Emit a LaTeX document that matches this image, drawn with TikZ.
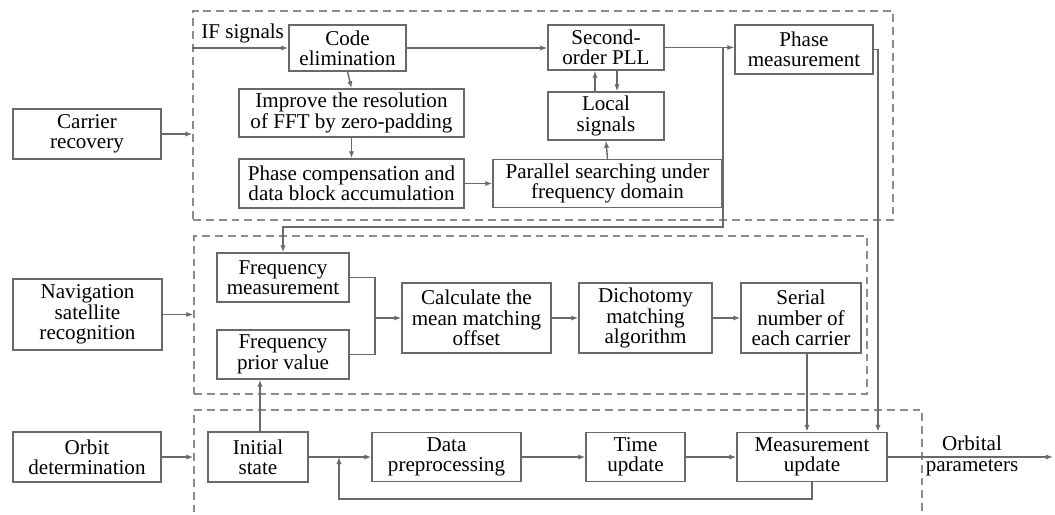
\documentclass[tikz,border=0pt]{standalone}
\usepackage{fontspec}
\setmainfont{Liberation Serif}
\usetikzlibrary{arrows.meta}

\definecolor{boxgray}{RGB}{105,105,105}
\definecolor{dashgray}{RGB}{140,140,140}

\begin{document}
\begin{tikzpicture}[x=0.02cm, y=-0.02cm,
  every node/.style={font=\fontsize{12}{11.6}\selectfont},
  blk/.style={draw=boxgray, line width=0.8pt, inner sep=0pt, align=center},
  grp/.style={draw=dashgray, line width=0.8pt, dash pattern=on 4.5pt off 2.8pt, inner sep=0pt},
  arr/.style={draw=boxgray, line width=0.8pt, -{Latex[length=4pt,width=3pt]}},
  ln/.style={draw=boxgray, line width=0.8pt}]
\useasboundingbox (0,0) rectangle (1055,514);
\clip (0,0) rectangle (1055,514);

% Dashed groups
\node (g1) [grp, minimum width=14cm, minimum height=4.18cm] at (543,115.5) {};
\node (g2) [grp, minimum width=13.46cm, minimum height=3.16cm] at (530.5,315) {};
\node (g3) [grp, minimum width=14.56cm, minimum height=2.6cm] at (558,475) {};

% Left column
\node (cr) [blk, minimum width=2.96cm, minimum height=1cm] at (87,134) {Carrier\\recovery};
\node (nsr) [blk, minimum width=2.98cm, minimum height=1.42cm] at (87.5,314.5) {Navigation\\satellite\\recognition};
\node (od) [blk, minimum width=2.96cm, minimum height=1cm] at (87,457) {Orbit\\determination};

% Carrier recovery
\node (ce) [blk, minimum width=2.34cm, minimum height=0.92cm] at (347.5,48) {Code\\elimination};
\node (fft) [blk, minimum width=4.5cm, minimum height=0.96cm] at (351.5,113) {Improve the resolution\\of FFT by zero-padding};
\node (pc) [blk, minimum width=4.5cm, minimum height=0.98cm] at (351.5,183.5) {Phase compensation and\\data block accumulation};
\node (ps) [blk, minimum width=4.58cm, minimum height=0.96cm] at (607.5,183.5) {Parallel searching under\\frequency domain};
\node (pll) [blk, minimum width=2.32cm, minimum height=0.9cm] at (606,47.5) {Second-\\order PLL};
\node (ls) [blk, minimum width=2.32cm, minimum height=0.96cm] at (606,116) {Local\\signals};
\node (pm) [blk, minimum width=2.76cm, minimum height=0.98cm] at (804,49.5) {Phase\\measurement};
\node (iflbl) [anchor=base west, inner sep=0pt] at (201,38) {IF signals};

% Navigation satellite recognition
\node (fm) [blk, minimum width=2.64cm, minimum height=0.98cm] at (283,277.5) {Frequency\\measurement};
\node (fp) [blk, minimum width=2.64cm, minimum height=0.98cm] at (283,354.5) {Frequency\\prior value};
\node (cm) [blk, minimum width=2.98cm, minimum height=1.4cm] at (476.5,318) {Calculate the\\mean matching\\offset};
\node (dm) [blk, minimum width=2.66cm, minimum height=1.4cm] at (645.5,318) {Dichotomy\\matching\\algorithm};
\node (sn) [blk, minimum width=2.4cm, minimum height=1.4cm] at (801,318) {Serial\\number of\\each carrier};

% Orbit determination
\node (is) [blk, minimum width=2cm, minimum height=1cm] at (258,457) {Initial\\state};
\node (dp) [blk, minimum width=2.98cm, minimum height=0.98cm] at (446.5,457) {Data\\preprocessing};
\node (tu) [blk, minimum width=1.98cm, minimum height=0.98cm] at (635.5,457) {Time\\update};
\node (mu) [blk, minimum width=3cm, minimum height=0.98cm] at (812,457) {Measurement\\update};
\node (outlbl) [align=center, inner sep=0pt] at (972,456) {Orbital\\parameters};

% Turning points
\coordinate (tap) at (723,47.5);
\coordinate (tapdn) at (723,227);
\coordinate (pmturn) at (878,49.5);
\coordinate (mrg) at (375,318);
\coordinate (fbl) at (339,499);
\coordinate (fbk) at (339,457);
\coordinate (out) at (1053,457);

% Left column into groups
\draw[arr] (cr.east) -- (cr.east -| g1.west);
\draw[arr] (nsr.east) -- (nsr.east -| g2.west);
\draw[arr] (od.east) -- (od.east -| g3.west);

% Carrier recovery arrows
\draw[arr] (ce.west -| g1.west) -- (ce.west);
\draw[arr] (ce.south) -- (fft.north);
\draw[arr] (fft.south) -- (pc.north);
\draw[arr] (pc.east) -- (ps.west);
\draw[arr] (ce.east) -- (ce.east -| pll.west);
\draw[arr] (ps.north) -- (ls.south);
\draw[arr] ([xshift=-0.22cm]ls.north) -- ([xshift=-0.22cm]pll.south);
\draw[arr] ([xshift=0.22cm]pll.south) -- ([xshift=0.22cm]ls.north);
\draw[arr] (pll.east) -- (pll.east -| pm.west);
\draw[arr] (tap) -- (tapdn) -| (fm.north);
\draw[arr] (pm.east) -- (pmturn) -- (pmturn |- mu.north);

% Navigation satellite recognition arrows
\draw[ln] (fm.east) -| (mrg);
\draw[ln] (fp.east) -| (mrg);
\draw[arr] (mrg) -- (cm.west);
\draw[arr] (cm.east) -- (dm.west);
\draw[arr] (dm.east) -- (sn.west);
\draw[arr] ([xshift=0.12cm]sn.south) -- ([xshift=0.12cm]sn.south |- mu.north);

% Orbit determination arrows
\draw[arr] ([xshift=0.04cm]is.north) -- ([xshift=0.04cm]is.north |- fp.south);
\draw[arr] (is.east) -- (dp.west);
\draw[arr] (dp.east) -- (tu.west);
\draw[arr] (tu.east) -- (mu.west);
\draw[arr] (mu.south) |- (fbl) -- (fbk);
\draw[arr] (mu.east) -- (out);
\end{tikzpicture}
\end{document}
